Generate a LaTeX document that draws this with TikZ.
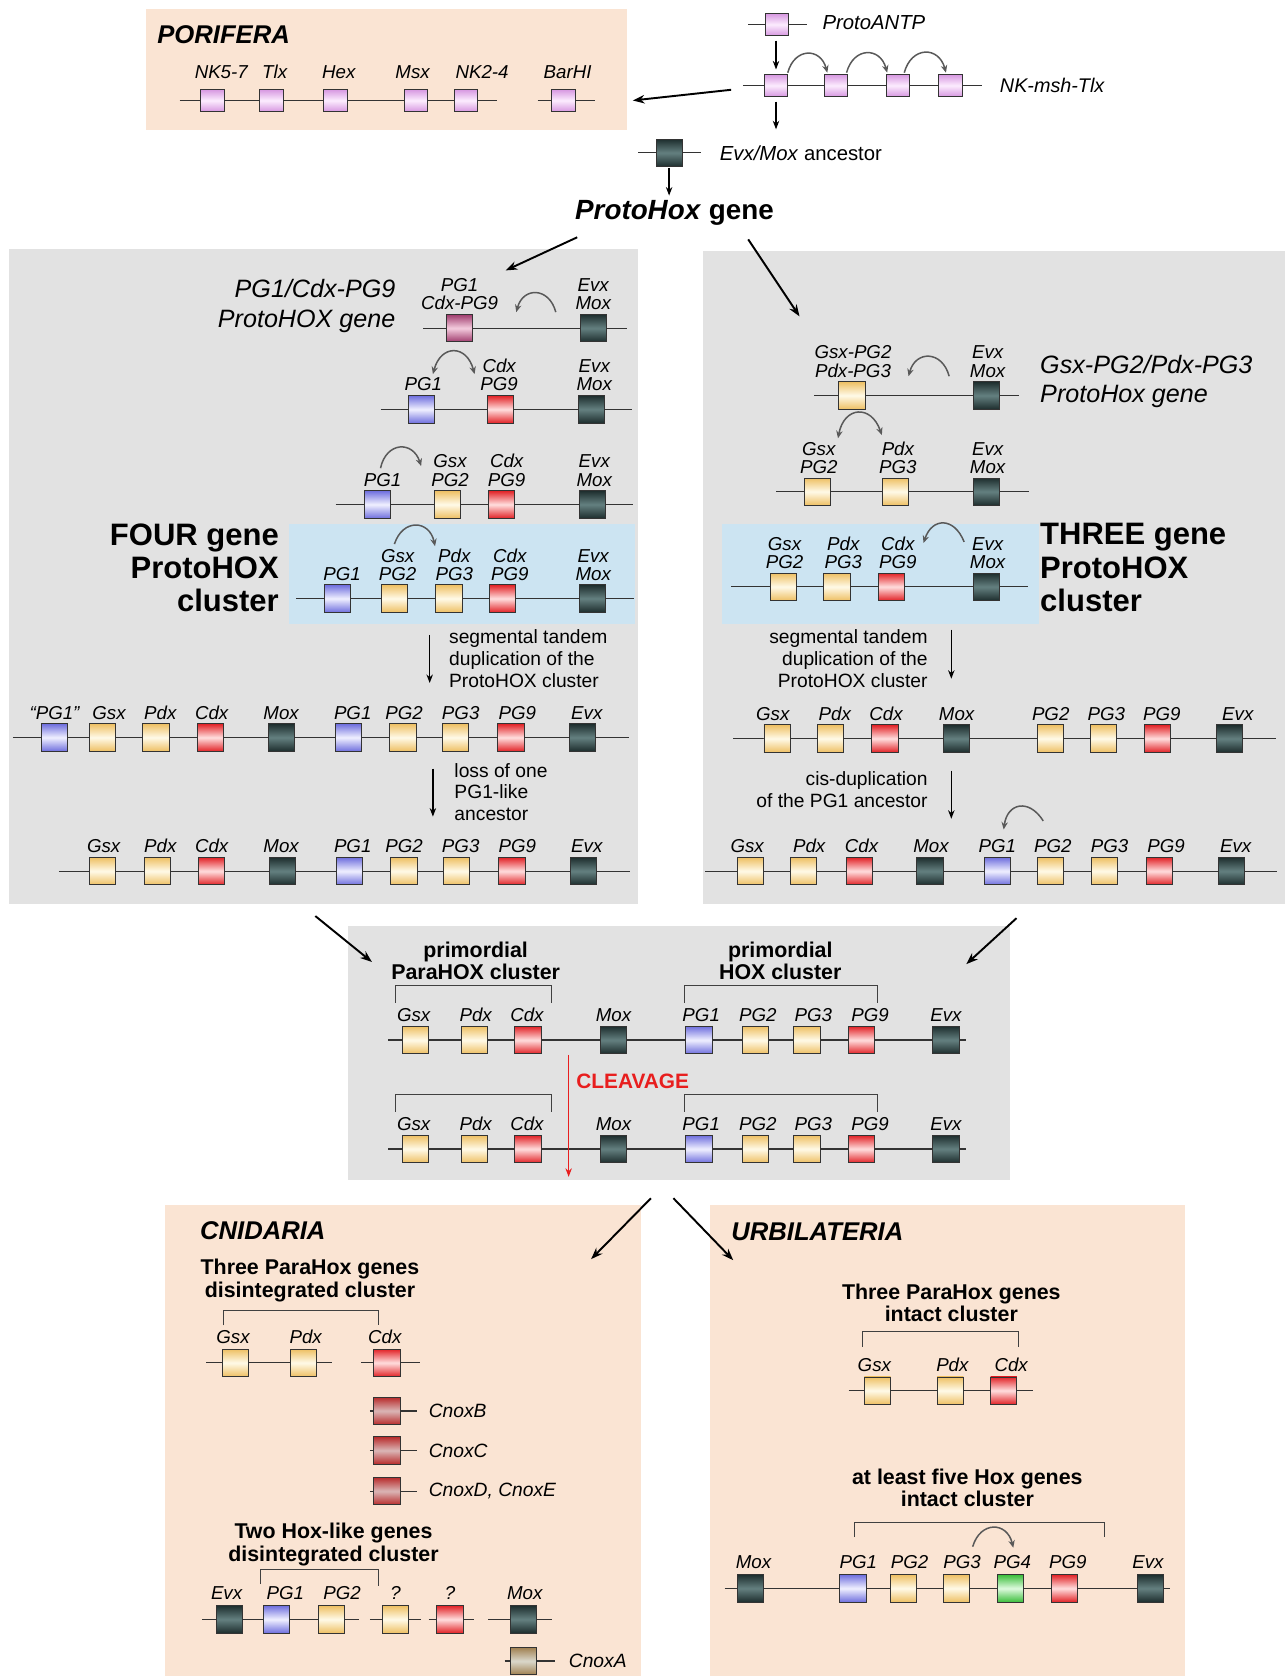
\documentclass[tikz,border=0pt]{standalone}
\usepackage{fontspec}
\setmainfont{Liberation Sans}
\usetikzlibrary{arrows.meta,positioning}

\definecolor{peach}{RGB}{250,228,211}
\definecolor{panelgrey}{RGB}{226,226,226}
\definecolor{paleblue}{RGB}{204,228,242}
\definecolor{yelA}{RGB}{238,192,100}
\definecolor{yelB}{RGB}{255,250,232}
\definecolor{redA}{RGB}{226,36,40}
\definecolor{redB}{RGB}{255,222,222}
\definecolor{bluA}{RGB}{112,112,222}
\definecolor{bluB}{RGB}{240,240,255}
\definecolor{drkA}{RGB}{30,46,46}
\definecolor{drkB}{RGB}{100,128,128}
\definecolor{pnkA}{RGB}{214,150,224}
\definecolor{pnkB}{RGB}{252,236,254}
\definecolor{magA}{RGB}{160,60,110}
\definecolor{magB}{RGB}{244,204,222}
\definecolor{grnA}{RGB}{60,190,60}
\definecolor{grnB}{RGB}{222,250,222}
\definecolor{crdA}{RGB}{184,44,44}
\definecolor{crdB}{RGB}{218,182,182}
\definecolor{tanA}{RGB}{160,128,80}
\definecolor{tanB}{RGB}{218,216,204}
\definecolor{cleave}{RGB}{232,30,30}

\begin{document}
\begin{tikzpicture}[x=1pt, y=-1pt,
    chrom/.style={draw=black!80, line width=1.1pt},
    gene/.style={draw=black!80, line width=0.9pt, minimum width=24.5pt, minimum height=25.5pt, inner sep=0pt},
    sm/.style={minimum width=22pt, minimum height=21pt},
    gY/.style={gene, top color=yelA, bottom color=yelA, middle color=yelB},
    gR/.style={gene, top color=redA, bottom color=redA, middle color=redB},
    gB/.style={gene, top color=bluA, bottom color=bluA, middle color=bluB},
    gD/.style={gene, top color=drkA, bottom color=drkA, middle color=drkB},
    gP/.style={gene, sm, top color=pnkA, bottom color=pnkA, middle color=pnkB},
    gM/.style={gene, top color=magA, bottom color=magA, middle color=magB},
    gG/.style={gene, top color=grnA, bottom color=grnA, middle color=grnB},
    gC/.style={gene, top color=crdA, bottom color=crdA, middle color=crdB},
    gT/.style={gene, top color=tanA, bottom color=tanA, middle color=tanB},
    lab/.style={font=\fontsize{17.5}{17}\selectfont\itshape, inner sep=0pt, text depth=0pt, anchor=south, align=center},
    txt/.style={font=\fontsize{18}{20.5}\selectfont, inner sep=0pt},
    head/.style={font=\fontsize{20}{21}\selectfont\bfseries, align=center, inner sep=0pt},
    title/.style={font=\fontsize{24}{26}\selectfont\bfseries\itshape, anchor=west, inner sep=0pt},
    clus/.style={font=\fontsize{29}{31}\selectfont\bfseries, inner sep=0pt},
    big/.style={-{Stealth[length=11pt,width=8pt]}, line width=1.8pt},
    small/.style={-{Stealth[length=8pt,width=6pt]}, line width=1.5pt},
    dup/.style={-{Stealth[length=7pt,width=6pt]}, draw=black!65, line width=1.4pt, looseness=1.7},
    dupb/.style={{Stealth[length=7pt,width=6pt]}-{Stealth[length=7pt,width=6pt]}, draw=black!65, line width=1.4pt, looseness=1.9},
    bracket/.style={draw=black!75, line width=1pt}]
  \useasboundingbox (0,0) rectangle (1202,1568);

  % backgrounds
  \fill[peach] (137,8) rectangle (587,122);
  \fill[panelgrey] (8,233) rectangle (597,846);
  \fill[panelgrey] (658,235) rectangle (1202,846);
  \fill[paleblue] (270,490) rectangle (594,584);
  \fill[paleblue] (675,490) rectangle (972,584);
  \fill[panelgrey] (326,866) rectangle (945,1104);
  \fill[peach] (154,1127) rectangle (600,1568);
  \fill[peach] (664,1127) rectangle (1109,1568);

  % PORIFERA
  \node[title] (pori) at (147,32) {PORIFERA};
  \draw[chrom] (168,94) -- (465,94);
  \draw[chrom] (503,94) -- (557,94);
  \foreach \x/\lx/\t [count=\i] in {199/207/NK5-7, 254/257/Tlx, 314/317/Hex, 389/386/Msx, 436/451/NK2-4, 527/531/BarHI}
    {\node[gP] (P\i) at (\x,94) {}; \node[lab] (Pt\i) at (\lx,74) {\t};}

  % ProtoANTP and NK-msh-Tlx
  \draw[chrom] (700,23) -- (755,23);
  \node[gP] (antp) at (727,23) {};
  \node[anchor=west, font=\fontsize{19}{21}\selectfont\itshape] (antpt) at (766,21) {ProtoANTP};
  \draw[chrom] (695,80) -- (919,80);
  \foreach \x [count=\i] in {726,782,840,889}
    {\node[gP] (N\i) at (\x,80) {};}
  \node[anchor=west, font=\fontsize{18.5}{21}\selectfont\itshape] (nkt) at (932,80) {NK-msh-Tlx};
  \coordinate (t1) at (726,38); \coordinate (t2) at (726,65);
  \coordinate (t3) at (726,95); \coordinate (t4) at (726,121);
  \draw[small] (t1) -- (t2);
  \draw[small] (t3) -- (t4);
  \coordinate (u1) at (737,68); \coordinate (u2) at (774,68);
  \coordinate (u3) at (792,68); \coordinate (u4) at (830,68);
  \coordinate (u5) at (846,68); \coordinate (u6) at (885,68);
  \draw[dup] (u1) to[bend left=75] (u2);
  \draw[dup] (u3) to[bend left=75] (u4);
  \draw[dup] (u5) to[bend left=75] (u6);

  % Evx/Mox ancestor
  \draw[chrom] (597,143) -- (656,143);
  \node[gD] (anc) at (626,143) {};
  \node[anchor=west, font=\fontsize{19}{21}\selectfont] (anct) at (670,143) {\textit{Evx/Mox} ancestor};
  \coordinate (t5) at (626,157); \coordinate (t6) at (626,183);
  \draw[small] (t5) -- (t6);
  \node[font=\fontsize{26}{28}\selectfont\bfseries] (phox) at (631,199) {\textit{ProtoHox} gene};

  % arrows between the parts
  \coordinate (a1) at (684,84);  \coordinate (a2) at (592,94);
  \coordinate (a3) at (540,222); \coordinate (a4) at (473,253);
  \coordinate (a5) at (700,224); \coordinate (a6) at (748,296);
  \coordinate (a7) at (295,857); \coordinate (a8) at (348,900);
  \coordinate (a9) at (951,859); \coordinate (a10) at (904,902);
  \coordinate (a11) at (609,1121); \coordinate (a12) at (553,1178);
  \coordinate (a13) at (630,1121); \coordinate (a14) at (686,1179);
  \draw[big] (a1) -- (a2);
  \draw[big] (a3) -- (a4);
  \draw[big] (a5) -- (a6);
  \draw[big] (a7) -- (a8);
  \draw[big] (a9) -- (a10);
  \draw[big] (a11) -- (a12);
  \draw[big] (a13) -- (a14);

  % FOUR gene side
  \node[anchor=east, align=right, font=\fontsize{23.5}{28}\selectfont\itshape, inner sep=0pt] (fA) at (370,286) {PG1/Cdx-PG9\\ProtoHOX gene};
  % Row A
  \draw[chrom] (396,307) -- (587,307);
  \foreach \x/\s/\lx/\t [count=\i] in {430/gM/430/{PG1\\Cdx-PG9}, 555/gD/555/{Evx\\Mox}}
    {\node[\s] (LA\i) at (\x,307) {}; \node[lab] (LAt\i) at (\lx,290) {\t};}
  \coordinate (v1) at (520,292); \coordinate (v2) at (483,292);
  \draw[dup] (v1) to[bend right=75] (v2);
  % Row B
  \draw[chrom] (356,383) -- (591,383);
  \foreach \x/\s/\lx/\t [count=\i] in {394/gB/396/PG1, 468/gR/467/{Cdx\\PG9}, 553/gD/556/{Evx\\Mox}}
    {\node[\s] (LB\i) at (\x,383) {}; \node[lab] (LBt\i) at (\lx,366) {\t};}
  \coordinate (v3) at (405,350); \coordinate (v4) at (444,350);
  \draw[dupb] (v3) to[bend left=75] (v4);
  % Row C
  \draw[chrom] (314,472) -- (592,472);
  \foreach \x/\s/\lx/\t [count=\i] in {353/gB/358/PG1, 419/gY/421/{Gsx\\PG2}, 469/gR/474/{Cdx\\PG9}, 554/gD/556/{Evx\\Mox}}
    {\node[\s] (LC\i) at (\x,472) {}; \node[lab] (LCt\i) at (\lx,455) {\t};}
  \coordinate (v5) at (356,438); \coordinate (v6) at (394,436);
  \draw[dup] (v5) to[bend left=75] (v6);
  % Row D
  \draw[chrom] (277,560) -- (593,560);
  \foreach \x/\s/\lx/\t [count=\i] in {316/gB/320/PG1, 369/gY/372/{Gsx\\PG2}, 420/gY/425/{Pdx\\PG3}, 470/gR/477/{Cdx\\PG9}, 554/gD/555/{Evx\\Mox}}
    {\node[\s] (LD\i) at (\x,560) {}; \node[lab] (LDt\i) at (\lx,543) {\t};}
  \coordinate (v7) at (369,509); \coordinate (v8) at (407,511);
  \draw[dup] (v7) to[bend left=75] (v8);
  \node[clus, anchor=east, align=right] (four) at (261,531) {FOUR gene\\ProtoHOX\\cluster};
  \node[txt, anchor=west, align=left] (segL) at (420,616) {segmental tandem\\duplication of the\\ProtoHOX cluster};
  \coordinate (t7) at (402,594); \coordinate (t8) at (402,639);
  \draw[small] (t7) -- (t8);
  % Row E
  \draw[chrom] (12,690) -- (588,690);
  \foreach \x/\s/\lx/\t [count=\i] in {51/gB/51/“PG1”, 96/gY/102/Gsx, 146/gY/150/Pdx, 197/gR/198/Cdx, 263/gD/263/Mox, 326/gB/330/PG1, 377/gY/378/PG2, 426/gY/431/PG3, 478/gR/484/PG9, 545/gD/549/Evx}
    {\node[\s] (LE\i) at (\x,690) {}; \node[lab] (LEt\i) at (\lx,673) {\t};}
  \node[txt, anchor=west, align=left] (lossL) at (425,741) {loss of one\\PG1-like\\ancestor};
  \coordinate (t9) at (405,719); \coordinate (t10) at (405,764);
  \draw[small] (t9) -- (t10);
  % Row F
  \draw[chrom] (55,815) -- (589,815);
  \foreach \x/\s/\lx/\t [count=\i] in {96/gY/97/Gsx, 147/gY/150/Pdx, 198/gR/198/Cdx, 264/gD/263/Mox, 327/gB/330/PG1, 378/gY/378/PG2, 427/gY/431/PG3, 479/gR/484/PG9, 546/gD/549/Evx}
    {\node[\s] (LF\i) at (\x,815) {}; \node[lab] (LFt\i) at (\lx,798) {\t};}

  % THREE gene side
  % Row A
  \draw[chrom] (762,370) -- (953,370);
  \foreach \x/\s/\lx/\t [count=\i] in {797/gY/798/{Gsx-PG2\\Pdx-PG3}, 923/gD/924/{Evx\\Mox}}
    {\node[\s] (RA\i) at (\x,370) {}; \node[lab] (RAt\i) at (\lx,353) {\t};}
  \coordinate (w1) at (888,352); \coordinate (w2) at (850,352);
  \draw[dup] (w1) to[bend right=75] (w2);
  \node[anchor=west, align=left, font=\fontsize{23.5}{27}\selectfont\itshape, inner sep=0pt] (rA) at (973,357) {Gsx-PG2/Pdx-PG3\\ProtoHox gene};
  % Row B
  \draw[chrom] (726,460) -- (963,460);
  \foreach \x/\s/\lx/\t [count=\i] in {765/gY/766/{Gsx\\PG2}, 838/gY/840/{Pdx\\PG3}, 923/gD/924/{Evx\\Mox}}
    {\node[\s] (RB\i) at (\x,460) {}; \node[lab] (RBt\i) at (\lx,443) {\t};}
  \coordinate (w3) at (784,410); \coordinate (w4) at (825,407);
  \draw[dupb] (w3) to[bend left=75] (w4);
  % Row C
  \draw[chrom] (684,549) -- (962,549);
  \foreach \x/\s/\lx/\t [count=\i] in {733/gY/734/{Gsx\\PG2}, 783/gY/789/{Pdx\\PG3}, 834/gR/840/{Cdx\\PG9}, 923/gD/924/{Evx\\Mox}}
    {\node[\s] (RC\i) at (\x,549) {}; \node[lab] (RCt\i) at (\lx,532) {\t};}
  \coordinate (w5) at (902,507); \coordinate (w6) at (864,508);
  \draw[dup] (w5) to[bend right=70] (w6);
  \node[clus, anchor=west, align=left] (three) at (973,531) {THREE gene\\ProtoHOX\\cluster};
  \node[txt, anchor=east, align=right] (segR) at (868,616) {segmental tandem\\duplication of the\\ProtoHOX cluster};
  \coordinate (t11) at (890,589); \coordinate (t12) at (890,635);
  \draw[small] (t11) -- (t12);
  % Row D
  \draw[chrom] (686,691) -- (1194,691);
  \foreach \x/\s/\lx/\t [count=\i] in {727/gY/723/Gsx, 777/gY/781/Pdx, 828/gR/829/Cdx, 895/gD/895/Mox, 983/gY/983/PG2, 1032/gY/1035/PG3, 1083/gR/1087/PG9, 1150/gD/1158/Evx}
    {\node[\s] (RD\i) at (\x,691) {}; \node[lab] (RDt\i) at (\lx,674) {\t};}
  \node[txt, anchor=east, align=right] (cisR) at (868,739) {cis-duplication\\of the PG1 ancestor};
  \coordinate (t13) at (890,721); \coordinate (t14) at (890,766);
  \draw[small] (t13) -- (t14);
  % Row E
  \draw[chrom] (660,815) -- (1195,815);
  \foreach \x/\s/\lx/\t [count=\i] in {702/gY/699/Gsx, 752/gY/757/Pdx, 804/gR/806/Cdx, 870/gD/871/Mox, 933/gB/933/PG1, 983/gY/985/PG2, 1033/gY/1038/PG3, 1085/gR/1091/PG9, 1152/gD/1156/Evx}
    {\node[\s] (RE\i) at (\x,815) {}; \node[lab] (REt\i) at (\lx,798) {\t};}
  \coordinate (w7) at (976,768); \coordinate (w8) at (939,776);
  \draw[dup] (w7) to[bend right=70] (w8);

  % primordial cluster
  \node[head] (mpara) at (445,899) {primordial\\ParaHOX cluster};
  \node[head] (mhox) at (730,899) {primordial\\HOX cluster};
  \foreach \y in {973,1075}
    {\draw[chrom] (363,\y) -- (904,\y);
     \foreach \x/\s/\lx/\t [count=\i] in {389/gY/387/Gsx, 444/gY/445/Pdx, 494/gR/493/Cdx, 574/gD/574/Mox, 654/gB/656/PG1, 707/gY/709/PG2, 755/gY/761/PG3, 806/gR/814/PG9, 885/gD/885/Evx}
       {\node[\s] (M\y-\i) at (\x,\y) {}; \node[lab] (Mt\y-\i) at (\lx,\y-17) {\t};}
     \draw[bracket] (370,\y-35) -- (370,\y-51) -- (516,\y-51) -- (516,\y-35);
     \draw[bracket] (640,\y-35) -- (640,\y-51) -- (821,\y-51) -- (821,\y-35);}
  \node[anchor=west, font=\fontsize{19.5}{21}\selectfont\bfseries, text=cleave, inner sep=0pt] (clv) at (539,1012) {CLEAVAGE};
  \coordinate (t15) at (532,987); \coordinate (t16) at (532,1101);
  \draw[small, draw=cleave] (t15) -- (t16);

  % CNIDARIA
  \node[title] (cni) at (187,1151) {CNIDARIA};
  \node[head] (cpara) at (290,1198) {Three ParaHox genes\\disintegrated cluster};
  \draw[bracket] (209,1240) -- (209,1226) -- (354,1226) -- (354,1240);
  \draw[chrom] (193,1275) -- (311,1275);
  \draw[chrom] (338,1275) -- (393,1275);
  \foreach \x/\s/\lx/\t [count=\i] in {220/gY/218/Gsx, 284/gY/286/Pdx, 362/gR/360/Cdx}
    {\node[\s] (C\i) at (\x,1275) {}; \node[lab] (Ct\i) at (\lx,1257) {\t};}
  \foreach \y/\t [count=\i] in {1320/CnoxB, 1357/CnoxC, 1395/{CnoxD, CnoxE}}
    {\draw[chrom] (346,\y) -- (390,\y);
     \node[gC] (X\i) at (362,\y) {};
     \node[anchor=west, font=\fontsize{18}{20}\selectfont\itshape, inner sep=0pt] (Xt\i) at (401,\y) {\t};}
  \node[head] (chox) at (312,1445) {Two Hox-like genes\\disintegrated cluster};
  \draw[bracket] (244,1482) -- (244,1468) -- (354,1468) -- (354,1484);
  \draw[chrom] (189,1515) -- (336,1515);
  \draw[chrom] (346,1515) -- (394,1515);
  \draw[chrom] (401,1515) -- (443,1515);
  \draw[chrom] (457,1515) -- (516,1515);
  \foreach \x/\s/\lx/\t [count=\i] in {215/gD/212/Evx, 259/gB/267/PG1, 310/gY/320/PG2, 370/gY/370/?, 421/gR/421/?, 490/gD/491/Mox}
    {\node[\s] (H\i) at (\x,1515) {}; \node[lab] (Ht\i) at (\lx,1497) {\t};}
  \draw[chrom] (472,1554) -- (519,1554);
  \node[gT] (cnoxa) at (490,1554) {};
  \node[anchor=west, font=\fontsize{18}{20}\selectfont\itshape, inner sep=0pt] (cnoxat) at (532,1554) {CnoxA};

  % URBILATERIA
  \node[title] (urb) at (684,1152) {URBILATERIA};
  \node[head] (upara) at (890,1219) {Three ParaHox genes\\intact cluster};
  \draw[bracket] (807,1260) -- (807,1246) -- (953,1246) -- (953,1260);
  \draw[chrom] (794,1301) -- (966,1301);
  \foreach \x/\s/\lx/\t [count=\i] in {821/gY/818/Gsx, 889/gY/891/Pdx, 939/gR/946/Cdx}
    {\node[\s] (U\i) at (\x,1301) {}; \node[lab] (Ut\i) at (\lx,1283) {\t};}
  \node[head] (uhox) at (905,1392) {at least five Hox genes\\intact cluster};
  \draw[bracket] (799,1438) -- (799,1424) -- (1033,1424) -- (1033,1438);
  \draw[chrom] (678,1486) -- (1095,1486);
  \foreach \x/\s/\lx/\t [count=\i] in {702/gD/705/Mox, 798/gB/803/PG1, 845/gY/851/PG2, 895/gY/900/PG3, 945/gG/947/PG4, 996/gR/999/PG9, 1076/gD/1074/Evx}
    {\node[\s] (V\i) at (\x,1486) {}; \node[lab] (Vt\i) at (\lx,1468) {\t};}
  \coordinate (w9) at (910,1447); \coordinate (w10) at (948,1448);
  \draw[dup] (w9) to[bend left=75] (w10);
\end{tikzpicture}
\end{document}
